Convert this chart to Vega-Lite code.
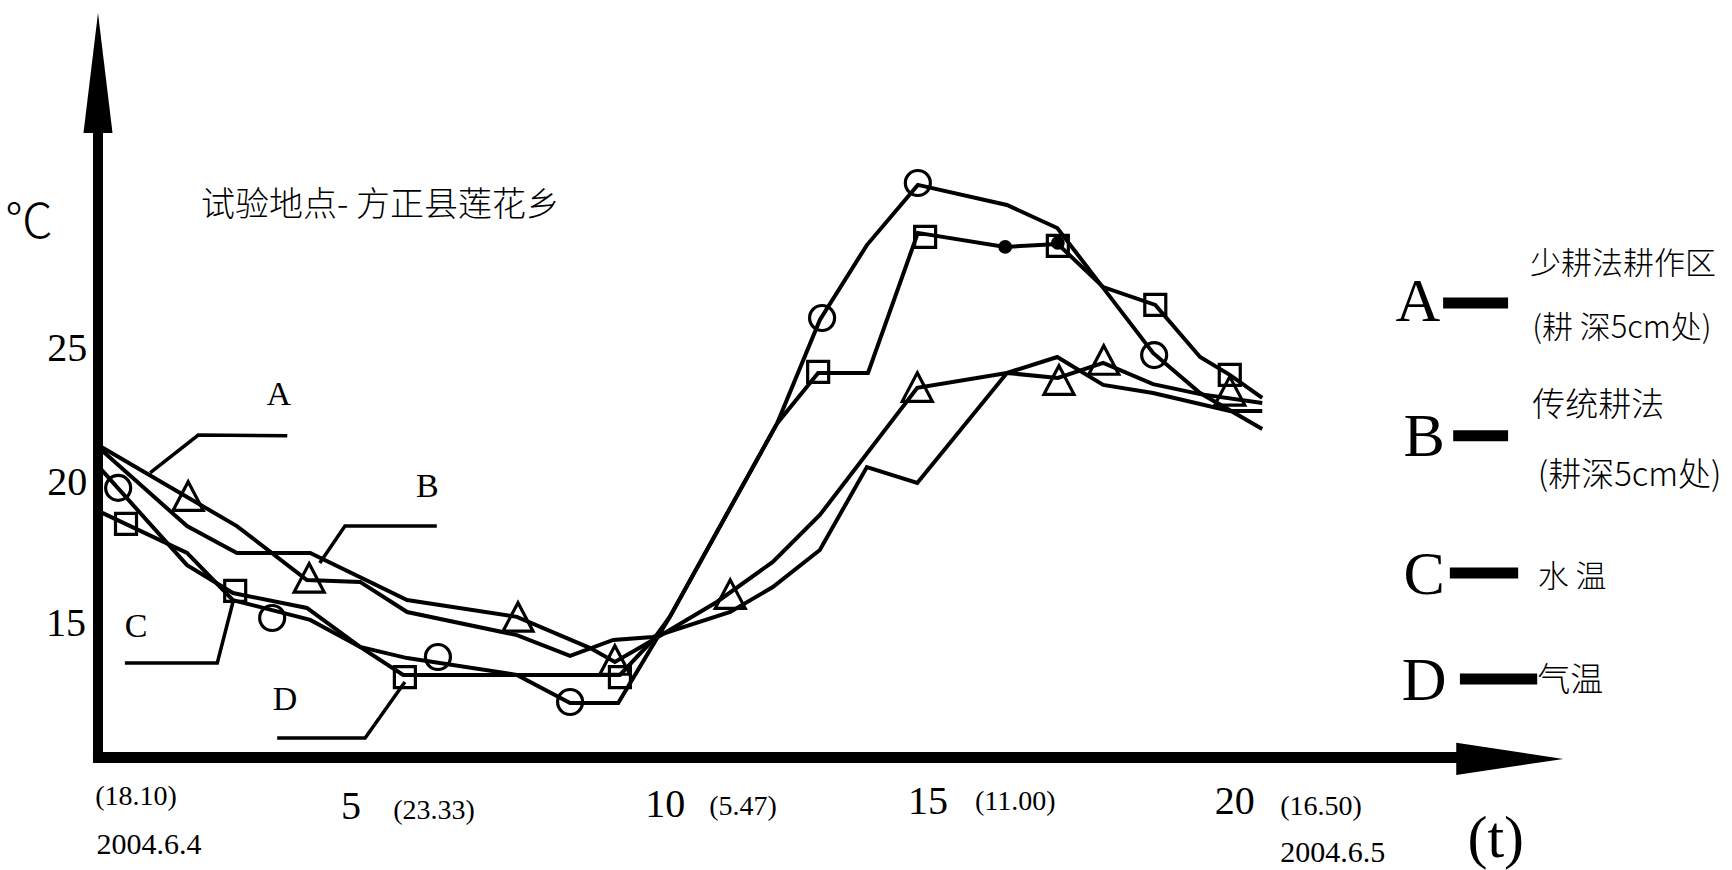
{
  "$schema": "https://vega.github.io/schema/vega-lite/v6.json",
  "width": 1732,
  "height": 870,
  "padding": 0,
  "autosize": {"type": "none"},
  "background": "white",
  "config": {"view": {"stroke": null}},
  "datasets": {
    "lines": [
      {"s": "A", "i": 1, "t": 0, "v": 21.51}, {"s": "A", "i": 2, "t": 2.48, "v": 18.52}, {"s": "A", "i": 3, "t": 3.73, "v": 16.53}, {"s": "A", "i": 4, "t": 4.68, "v": 16.46}, {"s": "A", "i": 5, "t": 5.52, "v": 15.35}, {"s": "A", "i": 6, "t": 7.48, "v": 14.5}, {"s": "A", "i": 7, "t": 8.43, "v": 13.73}, {"s": "A", "i": 8, "t": 9.2, "v": 14.32}, {"s": "A", "i": 9, "t": 9.91, "v": 14.43}, {"s": "A", "i": 10, "t": 11.29, "v": 15.35}, {"s": "A", "i": 11, "t": 12.05, "v": 16.27}, {"s": "A", "i": 12, "t": 12.89, "v": 17.64}, {"s": "A", "i": 13, "t": 13.73, "v": 20.7}, {"s": "A", "i": 14, "t": 14.63, "v": 20.11}, {"s": "A", "i": 15, "t": 16.23, "v": 24.17}, {"s": "A", "i": 16, "t": 17.14, "v": 23.99}, {"s": "A", "i": 17, "t": 17.95, "v": 24.54}, {"s": "A", "i": 18, "t": 18.84, "v": 23.76}, {"s": "A", "i": 19, "t": 19.68, "v": 23.39}, {"s": "A", "i": 20, "t": 20.79, "v": 23.06},
      {"s": "B", "i": 1, "t": 0, "v": 21.44}, {"s": "B", "i": 2, "t": 1.59, "v": 18.52}, {"s": "B", "i": 3, "t": 2.48, "v": 17.53}, {"s": "B", "i": 4, "t": 3.79, "v": 17.53}, {"s": "B", "i": 5, "t": 5.52, "v": 15.79}, {"s": "B", "i": 6, "t": 7.48, "v": 15.17}, {"s": "B", "i": 7, "t": 8.79, "v": 14.02}, {"s": "B", "i": 8, "t": 9.23, "v": 13.51}, {"s": "B", "i": 9, "t": 9.91, "v": 14.32}, {"s": "B", "i": 10, "t": 11.05, "v": 15.72}, {"s": "B", "i": 11, "t": 12.05, "v": 17.2}, {"s": "B", "i": 12, "t": 12.89, "v": 18.93}, {"s": "B", "i": 13, "t": 14.63, "v": 23.62}, {"s": "B", "i": 14, "t": 16.23, "v": 24.17}, {"s": "B", "i": 15, "t": 17.13, "v": 24.76}, {"s": "B", "i": 16, "t": 17.95, "v": 23.73}, {"s": "B", "i": 17, "t": 18.84, "v": 23.43}, {"s": "B", "i": 18, "t": 20.21, "v": 22.77}, {"s": "B", "i": 19, "t": 20.79, "v": 22.77},
      {"s": "C", "i": 1, "t": 0, "v": 19.08}, {"s": "C", "i": 2, "t": 1.59, "v": 17.53}, {"s": "C", "i": 3, "t": 2.41, "v": 15.79}, {"s": "C", "i": 4, "t": 3.79, "v": 15.06}, {"s": "C", "i": 5, "t": 4.68, "v": 14.06}, {"s": "C", "i": 6, "t": 5.52, "v": 13.65}, {"s": "C", "i": 7, "t": 7.48, "v": 13.03}, {"s": "C", "i": 8, "t": 8.43, "v": 11.99}, {"s": "C", "i": 9, "t": 9.29, "v": 11.99}, {"s": "C", "i": 10, "t": 10.21, "v": 15.17}, {"s": "C", "i": 11, "t": 12.13, "v": 22.32}, {"s": "C", "i": 12, "t": 12.89, "v": 26.13}, {"s": "C", "i": 13, "t": 13.73, "v": 28.89}, {"s": "C", "i": 14, "t": 14.64, "v": 31.11}, {"s": "C", "i": 15, "t": 16.23, "v": 30.37}, {"s": "C", "i": 16, "t": 17.13, "v": 29.52}, {"s": "C", "i": 17, "t": 17.95, "v": 27.31}, {"s": "C", "i": 18, "t": 18.84, "v": 24.91}, {"s": "C", "i": 19, "t": 19.68, "v": 23.43}, {"s": "C", "i": 20, "t": 20.79, "v": 22.1},
      {"s": "D", "i": 1, "t": 0, "v": 20.74}, {"s": "D", "i": 2, "t": 1.59, "v": 17.08}, {"s": "D", "i": 3, "t": 2.41, "v": 16.05}, {"s": "D", "i": 4, "t": 3.73, "v": 15.5}, {"s": "D", "i": 5, "t": 4.68, "v": 14.06}, {"s": "D", "i": 6, "t": 5.45, "v": 13.03}, {"s": "D", "i": 7, "t": 9.32, "v": 13.03}, {"s": "D", "i": 8, "t": 9.91, "v": 14.32}, {"s": "D", "i": 9, "t": 10.21, "v": 15.17}, {"s": "D", "i": 10, "t": 12.13, "v": 22.32}, {"s": "D", "i": 11, "t": 12.86, "v": 24.17}, {"s": "D", "i": 12, "t": 13.75, "v": 24.17}, {"s": "D", "i": 13, "t": 14.64, "v": 29.34}, {"s": "D", "i": 14, "t": 16.2, "v": 28.82}, {"s": "D", "i": 15, "t": 17.14, "v": 28.93}, {"s": "D", "i": 16, "t": 17.95, "v": 27.34}, {"s": "D", "i": 17, "t": 18.88, "v": 26.68}, {"s": "D", "i": 18, "t": 19.68, "v": 24.76}, {"s": "D", "i": 19, "t": 20.21, "v": 24.1}, {"s": "D", "i": 20, "t": 20.79, "v": 23.25}
    ],
    "leaders": [
      {"g": "A", "i": 1, "t": 0.93, "v": 20.48}, {"g": "A", "i": 2, "t": 1.79, "v": 21.88}, {"g": "A", "i": 3, "t": 3.38, "v": 21.85},
      {"g": "B", "i": 1, "t": 3.96, "v": 17.16}, {"g": "B", "i": 2, "t": 4.41, "v": 18.52}, {"g": "B", "i": 3, "t": 6.05, "v": 18.52},
      {"g": "C", "i": 1, "t": 0.48, "v": 13.47}, {"g": "C", "i": 2, "t": 2.13, "v": 13.47}, {"g": "C", "i": 3, "t": 2.41, "v": 15.72},
      {"g": "D", "i": 1, "t": 3.2, "v": 10.7}, {"g": "D", "i": 2, "t": 4.77, "v": 10.7}, {"g": "D", "i": 3, "t": 5.48, "v": 12.77}
    ],
    "markers": [
      {"m": "circle", "t": 0.36, "v": 19.93}, {"m": "circle", "t": 3.11, "v": 15.13}, {"m": "circle", "t": 6.07, "v": 13.69}, {"m": "circle", "t": 8.43, "v": 12.03}, {"m": "circle", "t": 12.93, "v": 26.2}, {"m": "circle", "t": 14.64, "v": 31.18}, {"m": "circle", "t": 18.86, "v": 24.83},
      {"m": "square", "t": 0.5, "v": 18.6}, {"m": "square", "t": 2.45, "v": 16.13}, {"m": "square", "t": 5.48, "v": 12.95}, {"m": "square", "t": 9.32, "v": 12.95}, {"m": "square", "t": 12.86, "v": 24.21}, {"m": "square", "t": 14.77, "v": 29.19}, {"m": "square", "t": 17.14, "v": 28.86}, {"m": "square", "t": 18.88, "v": 26.68}, {"m": "square", "t": 20.21, "v": 24.1},
      {"m": "triangle", "t": 1.61, "v": 19.63}, {"m": "triangle", "t": 3.77, "v": 16.61}, {"m": "triangle", "t": 7.5, "v": 15.17}, {"m": "triangle", "t": 9.23, "v": 13.58}, {"m": "triangle", "t": 11.29, "v": 16.01}, {"m": "triangle", "t": 14.63, "v": 23.65}, {"m": "triangle", "t": 17.16, "v": 23.91}, {"m": "triangle", "t": 17.96, "v": 24.65}, {"m": "triangle", "t": 20.21, "v": 23.51},
      {"m": "dot", "t": 16.2, "v": 28.82}, {"m": "dot", "t": 17.14, "v": 28.97}
    ],
    "bars": [
      {"k": "A", "t": 24.02, "t2": 25.18, "v": 26.75},
      {"k": "B", "t": 24.2, "t2": 25.18, "v": 21.85},
      {"k": "C", "t": 24.14, "t2": 25.36, "v": 16.79},
      {"k": "D", "t": 24.32, "t2": 25.7, "v": 12.88}
    ],
    "labels": [
      {"kind": "yt", "t": -0.55, "v": 25.06, "text": "25"},
      {"kind": "yt", "t": -0.55, "v": 20.11, "text": "20"},
      {"kind": "yt", "t": -0.57, "v": 14.91, "text": "15"},
      {"kind": "xn", "t": 4.52, "v": 8.15, "text": "5"},
      {"kind": "xn", "t": 10.13, "v": 8.23, "text": "10"},
      {"kind": "xn", "t": 14.82, "v": 8.34, "text": "15"},
      {"kind": "xn", "t": 20.3, "v": 8.34, "text": "20"},
      {"kind": "xp", "t": 0.68, "v": 8.52, "text": "(18.10)"},
      {"kind": "xp", "t": 6.0, "v": 8.01, "text": "(23.33)"},
      {"kind": "xp", "t": 11.52, "v": 8.15, "text": "(5.47)"},
      {"kind": "xp", "t": 16.38, "v": 8.34, "text": "(11.00)"},
      {"kind": "xp", "t": 21.84, "v": 8.15, "text": "(16.50)"},
      {"kind": "date", "t": 0.91, "v": 6.75, "text": "2004.6.4"},
      {"kind": "date", "t": 22.05, "v": 6.46, "text": "2004.6.5"},
      {"kind": "tu", "t": 24.96, "v": 6.97, "text": "(t)"},
      {"kind": "sl", "t": 3.23, "v": 23.36, "text": "A"},
      {"kind": "sl", "t": 5.88, "v": 19.96, "text": "B"},
      {"kind": "sl", "t": 0.68, "v": 14.8, "text": "C"},
      {"kind": "sl", "t": 3.34, "v": 12.1, "text": "D"},
      {"kind": "ll", "t": 23.57, "v": 26.79, "text": "A"},
      {"kind": "ll", "t": 23.68, "v": 21.81, "text": "B"},
      {"kind": "ll", "t": 23.68, "v": 16.72, "text": "C"},
      {"kind": "ll", "t": 23.68, "v": 12.8, "text": "D"},
      {"kind": "lt1", "t": 25.57, "v": 28.15, "text": "少耕法耕作区"},
      {"kind": "lt1", "t": 25.61, "v": 25.79, "text": "(耕 深5cm处)"},
      {"kind": "lt1", "t": 25.71, "v": 16.61, "text": "水 温"},
      {"kind": "lt2", "t": 25.61, "v": 22.95, "text": "传统耕法"},
      {"kind": "lt2", "t": 25.71, "v": 20.37, "text": "(耕深5cm处)"},
      {"kind": "lt2", "t": 25.7, "v": 12.8, "text": "气温"},
      {"kind": "title", "t": 1.84, "v": 30.32, "text": "试验地点- 方正县莲花乡"},
      {"kind": "unit", "t": -1.23, "v": 29.66, "text": "℃"}
    ]
  },
  "encoding": {
    "x": {"field": "t", "type": "quantitative", "scale": {"domain": [-1.75, 29.17857], "nice": false, "zero": false}, "axis": null},
    "y": {"field": "v", "type": "quantitative", "scale": {"domain": [5.83026, 37.93358], "nice": false, "zero": false}, "axis": null}
  },
  "layer": [
    {
      "data": {"name": "lines"},
      "mark": {"type": "line", "color": "black", "strokeWidth": 4, "strokeJoin": "miter", "strokeMiterLimit": 4},
      "encoding": {"detail": {"field": "s"}, "order": {"field": "i", "type": "quantitative"}}
    },
    {
      "data": {"name": "leaders"},
      "mark": {"type": "line", "color": "black", "strokeWidth": 3.5, "strokeJoin": "miter"},
      "encoding": {"detail": {"field": "g"}, "order": {"field": "i", "type": "quantitative"}}
    },
    {
      "data": {"values": [{"t": 0, "v": 9.78, "v2": 33.5}]},
      "mark": {"type": "rule", "color": "black", "strokeWidth": 10},
      "encoding": {"y2": {"field": "v2"}}
    },
    {
      "data": {"values": [{"t": -0.09, "t2": 24.5, "v": 9.98}]},
      "mark": {"type": "rule", "color": "black", "strokeWidth": 11},
      "encoding": {"x2": {"field": "t2"}}
    },
    {
      "data": {"values": [{"t": 0, "v": 35.24}]},
      "mark": {"type": "point", "shape": "M0,-1L0.242,1L-0.242,1Z", "size": 14400, "filled": true, "color": "black", "opacity": 1}
    },
    {
      "data": {"values": [{"t": 25.21, "v": 9.93}]},
      "mark": {"type": "point", "shape": "M1,0L-1,-0.3L-1,0.3Z", "size": 11449, "filled": true, "color": "black", "opacity": 1}
    },
    {
      "data": {"name": "bars"},
      "mark": {"type": "rule", "color": "black", "strokeWidth": 11},
      "encoding": {"x2": {"field": "t2"}}
    },
    {
      "data": {"name": "markers"},
      "transform": [{"filter": "datum.m === 'circle'"}],
      "mark": {"type": "point", "shape": "circle", "size": 625, "filled": false, "color": "black", "strokeWidth": 3.2, "opacity": 1}
    },
    {
      "data": {"name": "markers"},
      "transform": [{"filter": "datum.m === 'square'"}],
      "mark": {"type": "point", "shape": "square", "size": 441, "filled": false, "color": "black", "strokeWidth": 3.2, "opacity": 1}
    },
    {
      "data": {"name": "markers"},
      "transform": [{"filter": "datum.m === 'triangle'"}],
      "mark": {"type": "point", "shape": "M0,-0.95L1,0.95L-1,0.95Z", "size": 900, "filled": false, "color": "black", "strokeWidth": 3.2, "opacity": 1}
    },
    {
      "data": {"name": "markers"},
      "transform": [{"filter": "datum.m === 'dot'"}],
      "mark": {"type": "point", "shape": "circle", "size": 190, "filled": true, "color": "black", "opacity": 1}
    },
    {
      "data": {"name": "labels"},
      "transform": [{"filter": "datum.kind === 'yt'"}],
      "mark": {"type": "text", "font": "Liberation Serif", "fontSize": 40, "align": "center", "baseline": "middle", "color": "black"},
      "encoding": {"text": {"field": "text"}}
    },
    {
      "data": {"name": "labels"},
      "transform": [{"filter": "datum.kind === 'xn'"}],
      "mark": {"type": "text", "font": "Liberation Serif", "fontSize": 40, "align": "center", "baseline": "middle", "color": "black"},
      "encoding": {"text": {"field": "text"}}
    },
    {
      "data": {"name": "labels"},
      "transform": [{"filter": "datum.kind === 'xp'"}],
      "mark": {"type": "text", "font": "Liberation Serif", "fontSize": 28, "align": "center", "baseline": "middle", "color": "black"},
      "encoding": {"text": {"field": "text"}}
    },
    {
      "data": {"name": "labels"},
      "transform": [{"filter": "datum.kind === 'date'"}],
      "mark": {"type": "text", "font": "Liberation Serif", "fontSize": 30, "align": "center", "baseline": "middle", "color": "black"},
      "encoding": {"text": {"field": "text"}}
    },
    {
      "data": {"name": "labels"},
      "transform": [{"filter": "datum.kind === 'tu'"}],
      "mark": {"type": "text", "font": "Liberation Serif", "fontSize": 60, "align": "center", "baseline": "middle", "color": "black"},
      "encoding": {"text": {"field": "text"}}
    },
    {
      "data": {"name": "labels"},
      "transform": [{"filter": "datum.kind === 'sl'"}],
      "mark": {"type": "text", "font": "Liberation Serif", "fontSize": 34, "align": "center", "baseline": "middle", "color": "black"},
      "encoding": {"text": {"field": "text"}}
    },
    {
      "data": {"name": "labels"},
      "transform": [{"filter": "datum.kind === 'll'"}],
      "mark": {"type": "text", "font": "Liberation Serif", "fontSize": 62, "align": "center", "baseline": "middle", "color": "black"},
      "encoding": {"text": {"field": "text"}}
    },
    {
      "data": {"name": "labels"},
      "transform": [{"filter": "datum.kind === 'lt1'"}],
      "mark": {"type": "text", "font": "Noto Sans CJK SC", "fontWeight": 300, "fontSize": 31, "align": "left", "baseline": "middle", "color": "black"},
      "encoding": {"text": {"field": "text"}}
    },
    {
      "data": {"name": "labels"},
      "transform": [{"filter": "datum.kind === 'lt2'"}],
      "mark": {"type": "text", "font": "Noto Sans CJK SC", "fontWeight": 300, "fontSize": 33, "align": "left", "baseline": "middle", "color": "black"},
      "encoding": {"text": {"field": "text"}}
    },
    {
      "data": {"name": "labels"},
      "transform": [{"filter": "datum.kind === 'title'"}],
      "mark": {"type": "text", "font": "Noto Sans CJK SC", "fontWeight": 300, "fontSize": 34, "align": "left", "baseline": "middle", "color": "black"},
      "encoding": {"text": {"field": "text"}}
    },
    {
      "data": {"name": "labels"},
      "transform": [{"filter": "datum.kind === 'unit'"}],
      "mark": {"type": "text", "font": "Noto Sans CJK SC", "fontWeight": 300, "fontSize": 48, "align": "center", "baseline": "middle", "color": "black"},
      "encoding": {"text": {"field": "text"}}
    }
  ]
}
